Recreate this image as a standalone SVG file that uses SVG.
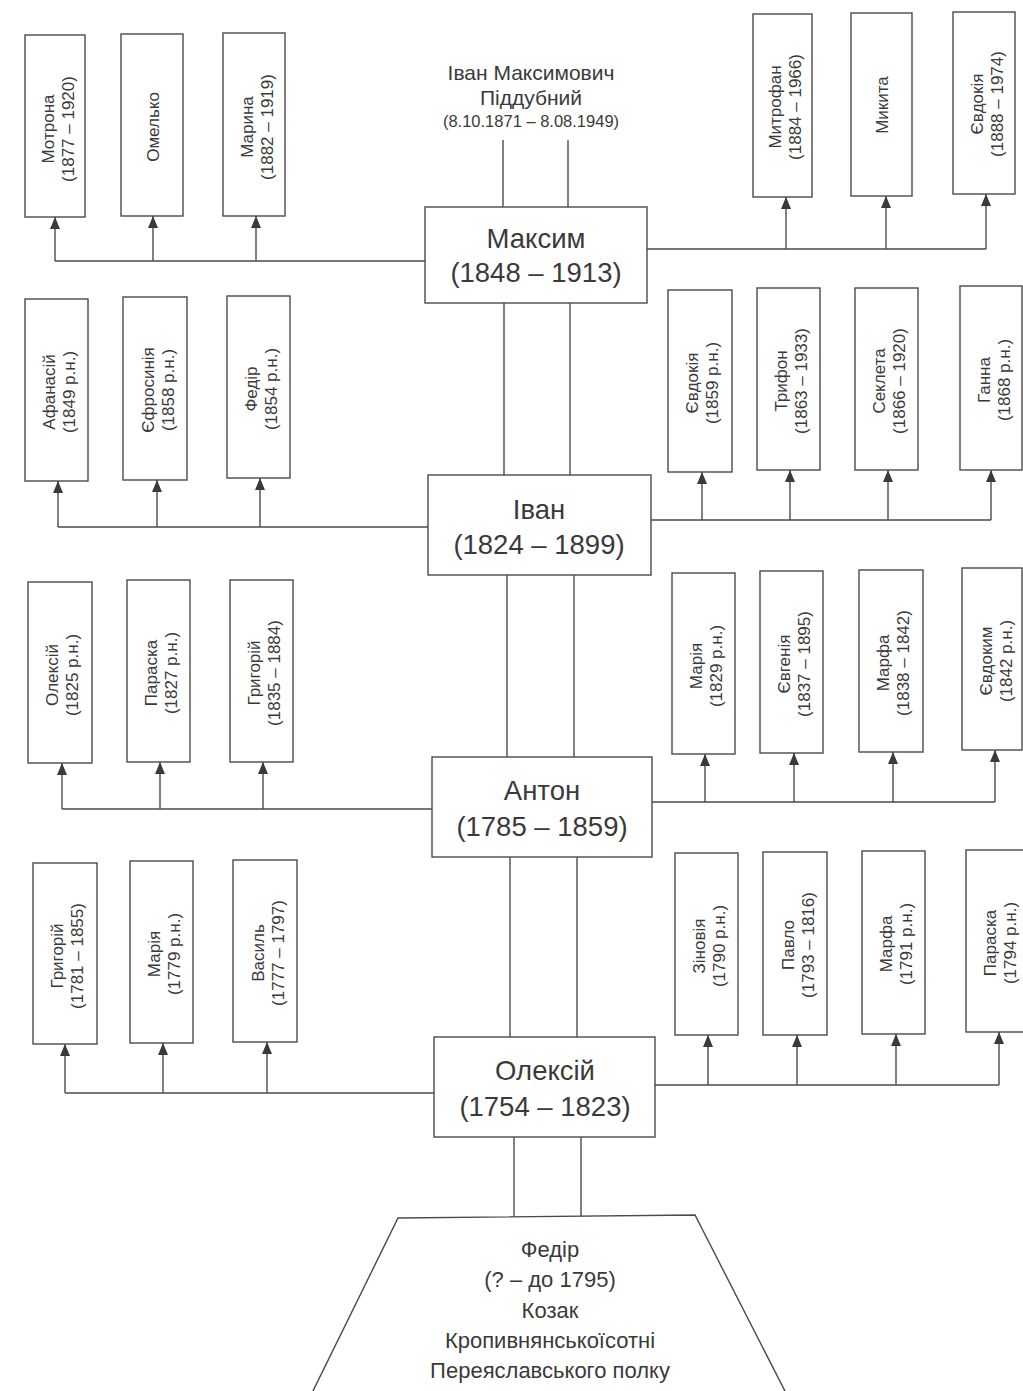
<svg xmlns="http://www.w3.org/2000/svg" width="1023" height="1391" viewBox="0 0 1023 1391">
<style>
.b{fill:#fff;stroke:#4a4a4a;stroke-width:1.4}
.l{fill:none;stroke:#4a4a4a;stroke-width:1.4}
.a{fill:none;stroke:#4a4a4a;stroke-width:1.4;marker-end:url(#ah)}
text{font-family:"Liberation Sans",Arial,sans-serif;fill:#3a3a3a;text-anchor:middle}
.s{font-size:17px}
.m{font-size:27.5px}
.t{font-size:21px}
.f{font-size:22px}
</style>
<defs>
<marker id="ah" viewBox="0 0 12 10" refX="12" refY="5" markerWidth="13" markerHeight="10" markerUnits="userSpaceOnUse" orient="auto">
<path d="M0,0 L12,5 L0,10 z" fill="#3a3a3a"/>
</marker>
</defs>
<rect width="1023" height="1391" fill="#fff"/>

<g id="connectors">
<line class="l" x1="503" y1="140" x2="503" y2="207"/>
<line class="l" x1="568" y1="140" x2="568" y2="207"/>
<polyline class="l" points="425,261 55,261"/>
<line class="a" x1="55" y1="261" x2="55" y2="217"/>
<line class="a" x1="153" y1="261" x2="153" y2="216"/>
<line class="a" x1="256" y1="261" x2="256" y2="216"/>
<polyline class="l" points="647,249 986,249"/>
<line class="a" x1="786" y1="249" x2="786" y2="197"/>
<line class="a" x1="886" y1="249" x2="886" y2="196"/>
<line class="a" x1="986" y1="249" x2="986" y2="194"/>
<line class="l" x1="504" y1="303" x2="504" y2="475"/>
<line class="l" x1="570" y1="303" x2="570" y2="475"/>
<polyline class="l" points="428,527 58,527"/>
<line class="a" x1="58" y1="527" x2="58" y2="481"/>
<line class="a" x1="157" y1="527" x2="157" y2="480"/>
<line class="a" x1="260" y1="527" x2="260" y2="478"/>
<polyline class="l" points="651,520 991,520"/>
<line class="a" x1="702" y1="520" x2="702" y2="472"/>
<line class="a" x1="790" y1="520" x2="790" y2="470"/>
<line class="a" x1="888" y1="520" x2="888" y2="470"/>
<line class="a" x1="991" y1="520" x2="991" y2="470"/>
<line class="l" x1="507" y1="575" x2="507" y2="757"/>
<line class="l" x1="574" y1="575" x2="574" y2="757"/>
<polyline class="l" points="432,809 62,809"/>
<line class="a" x1="62" y1="809" x2="62" y2="763"/>
<line class="a" x1="160" y1="809" x2="160" y2="762"/>
<line class="a" x1="263" y1="809" x2="263" y2="762"/>
<polyline class="l" points="652,802 995,802"/>
<line class="a" x1="705" y1="802" x2="705" y2="754"/>
<line class="a" x1="794" y1="802" x2="794" y2="753"/>
<line class="a" x1="893" y1="802" x2="893" y2="752"/>
<line class="a" x1="995" y1="802" x2="995" y2="750"/>
<line class="l" x1="510" y1="857" x2="510" y2="1037"/>
<line class="l" x1="577" y1="857" x2="577" y2="1037"/>
<polyline class="l" points="434,1093 65,1093"/>
<line class="a" x1="65" y1="1093" x2="65" y2="1044"/>
<line class="a" x1="163" y1="1093" x2="163" y2="1043"/>
<line class="a" x1="267" y1="1093" x2="267" y2="1042"/>
<polyline class="l" points="655,1085 999,1085"/>
<line class="a" x1="708" y1="1085" x2="708" y2="1035"/>
<line class="a" x1="797" y1="1085" x2="797" y2="1035"/>
<line class="a" x1="896" y1="1085" x2="896" y2="1034"/>
<line class="a" x1="999" y1="1085" x2="999" y2="1032"/>
<line class="l" x1="514" y1="1137" x2="514" y2="1217"/>
<line class="l" x1="581" y1="1137" x2="581" y2="1216"/>
</g>

<g id="ivan-maksymovych">
<text class="t" x="531" y="80">Іван  Максимович</text>
<text class="t" x="531" y="105">Піддубний</text>
<text x="531" y="127" style="font-size:16.5px">(8.10.1871 – 8.08.1949)</text>
</g>

<g id="maksym"><rect class="b" x="425" y="207" width="222" height="96"/>
<text class="m" x="536" y="248">Максим</text><text class="m" x="536" y="282">(1848 – 1913)</text></g>
<g id="ivan"><rect class="b" x="428" y="475" width="223" height="100"/>
<text class="m" x="539" y="519">Іван</text><text class="m" x="539" y="554">(1824 – 1899)</text></g>
<g id="anton"><rect class="b" x="432" y="757" width="220" height="100"/>
<text class="m" x="542" y="800">Антон</text><text class="m" x="542" y="836">(1785 – 1859)</text></g>
<g id="oleksii"><rect class="b" x="434" y="1037" width="221" height="100"/>
<text class="m" x="545" y="1080">Олексій</text><text class="m" x="545" y="1116">(1754 – 1823)</text></g>

<g id="fedir">
<path class="l" d="M311,1395 L398,1218 L695,1215 L787,1395"/>
<text class="f" x="550" y="1257">Федір</text>
<text class="f" x="550" y="1287">(? – до 1795)</text>
<text class="f" x="550" y="1318">Козак</text>
<text class="f" x="550" y="1348">Кропивнянськоїсотні</text>
<text class="f" x="550" y="1378">Переяславського  полку</text>
</g>

<g id="motrona"><rect class="b" x="25" y="35" width="60" height="182"/>
<text class="s" transform="translate(55,129) rotate(-90)"><tspan x="0" y="-1">Мотрона</tspan><tspan x="0" y="19">(1877 – 1920)</tspan></text></g>
<g id="omelko"><rect class="b" x="121" y="34" width="62" height="182"/>
<text class="s" transform="translate(152,127) rotate(-90)"><tspan x="0" y="7">Омелько</tspan></text></g>
<g id="maryna"><rect class="b" x="223" y="33" width="62" height="183"/>
<text class="s" transform="translate(254,127) rotate(-90)"><tspan x="0" y="-1">Марина</tspan><tspan x="0" y="19">(1882 – 1919)</tspan></text></g>
<g id="mytrofan"><rect class="b" x="753" y="14" width="59" height="183"/>
<text class="s" transform="translate(782,107) rotate(-90)"><tspan x="0" y="-1">Митрофан</tspan><tspan x="0" y="19">(1884 – 1966)</tspan></text></g>
<g id="mykyta"><rect class="b" x="851" y="13" width="61" height="183"/>
<text class="s" transform="translate(881,105) rotate(-90)"><tspan x="0" y="7">Микита</tspan></text></g>
<g id="yevdokiia1"><rect class="b" x="953" y="12" width="62" height="182"/>
<text class="s" transform="translate(984,104) rotate(-90)"><tspan x="0" y="-1">Євдокія</tspan><tspan x="0" y="19">(1888 – 1974)</tspan></text></g>

<g id="afanasii"><rect class="b" x="25" y="299" width="63" height="182"/>
<text class="s" transform="translate(56,392) rotate(-90)"><tspan x="0" y="-1">Афанасій</tspan><tspan x="0" y="19">(1849 р.н.)</tspan></text></g>
<g id="yefrosyniia"><rect class="b" x="123" y="297" width="64" height="183"/>
<text class="s" transform="translate(155,390) rotate(-90)"><tspan x="0" y="-1">Єфросинія</tspan><tspan x="0" y="19">(1858 р.н.)</tspan></text></g>
<g id="fedir2"><rect class="b" x="227" y="296" width="63" height="182"/>
<text class="s" transform="translate(258,389) rotate(-90)"><tspan x="0" y="-1">Федір</tspan><tspan x="0" y="19">(1854 р.н.)</tspan></text></g>
<g id="yevdokiia2"><rect class="b" x="668" y="290" width="64" height="182"/>
<text class="s" transform="translate(699,383) rotate(-90)"><tspan x="0" y="-1">Євдокія</tspan><tspan x="0" y="19">(1859 р.н.)</tspan></text></g>
<g id="tryfon"><rect class="b" x="757" y="288" width="63" height="182"/>
<text class="s" transform="translate(788,381) rotate(-90)"><tspan x="0" y="-1">Трифон</tspan><tspan x="0" y="19">(1863 – 1933)</tspan></text></g>
<g id="sekleta"><rect class="b" x="855" y="288" width="63" height="182"/>
<text class="s" transform="translate(886,381) rotate(-90)"><tspan x="0" y="-1">Секлета</tspan><tspan x="0" y="19">(1866 – 1920)</tspan></text></g>
<g id="hanna"><rect class="b" x="960" y="286" width="62" height="184"/>
<text class="s" transform="translate(991,380) rotate(-90)"><tspan x="0" y="-1">Ганна</tspan><tspan x="0" y="19">(1868 р.н.)</tspan></text></g>

<g id="oleksii2"><rect class="b" x="28" y="582" width="64" height="181"/>
<text class="s" transform="translate(59,675) rotate(-90)"><tspan x="0" y="-1">Олексій</tspan><tspan x="0" y="19">(1825 р.н.)</tspan></text></g>
<g id="paraska1"><rect class="b" x="127" y="580" width="63" height="182"/>
<text class="s" transform="translate(158,673) rotate(-90)"><tspan x="0" y="-1">Параска</tspan><tspan x="0" y="19">(1827 р.н.)</tspan></text></g>
<g id="hryhorii1"><rect class="b" x="230" y="580" width="63" height="182"/>
<text class="s" transform="translate(261,673) rotate(-90)"><tspan x="0" y="-1">Григорій</tspan><tspan x="0" y="19">(1835 – 1884)</tspan></text></g>
<g id="mariia1"><rect class="b" x="672" y="573" width="63" height="181"/>
<text class="s" transform="translate(703,666) rotate(-90)"><tspan x="0" y="-1">Марія</tspan><tspan x="0" y="19">(1829 р.н.)</tspan></text></g>
<g id="yevheniia"><rect class="b" x="760" y="571" width="63" height="182"/>
<text class="s" transform="translate(791,664) rotate(-90)"><tspan x="0" y="-1">Євгенія</tspan><tspan x="0" y="19">(1837 – 1895)</tspan></text></g>
<g id="marfa1"><rect class="b" x="859" y="570" width="64" height="182"/>
<text class="s" transform="translate(890,663) rotate(-90)"><tspan x="0" y="-1">Марфа</tspan><tspan x="0" y="19">(1838 – 1842)</tspan></text></g>
<g id="yevdokym"><rect class="b" x="962" y="568" width="60" height="182"/>
<text class="s" transform="translate(993,661) rotate(-90)"><tspan x="0" y="-1">Євдоким</tspan><tspan x="0" y="19">(1842 р.н.)</tspan></text></g>

<g id="hryhorii2"><rect class="b" x="33" y="863" width="64" height="181"/>
<text class="s" transform="translate(64,956) rotate(-90)"><tspan x="0" y="-1">Григорій</tspan><tspan x="0" y="19">(1781 – 1855)</tspan></text></g>
<g id="mariia2"><rect class="b" x="130" y="861" width="63" height="182"/>
<text class="s" transform="translate(161,954) rotate(-90)"><tspan x="0" y="-1">Марія</tspan><tspan x="0" y="19">(1779 р.н.)</tspan></text></g>
<g id="vasyl"><rect class="b" x="233" y="860" width="64" height="182"/>
<text class="s" transform="translate(265,953) rotate(-90)"><tspan x="0" y="-1">Василь</tspan><tspan x="0" y="19">(1777 – 1797)</tspan></text></g>
<g id="zinoviia"><rect class="b" x="675" y="853" width="63" height="182"/>
<text class="s" transform="translate(706,946) rotate(-90)"><tspan x="0" y="-1">Зіновія</tspan><tspan x="0" y="19">(1790 р.н.)</tspan></text></g>
<g id="pavlo"><rect class="b" x="763" y="852" width="64" height="183"/>
<text class="s" transform="translate(795,945) rotate(-90)"><tspan x="0" y="-1">Павло</tspan><tspan x="0" y="19">(1793 – 1816)</tspan></text></g>
<g id="marfa2"><rect class="b" x="862" y="851" width="63" height="183"/>
<text class="s" transform="translate(893,944) rotate(-90)"><tspan x="0" y="-1">Марфа</tspan><tspan x="0" y="19">(1791 р.н.)</tspan></text></g>
<g id="paraska2"><rect class="b" x="966" y="850" width="60" height="182"/>
<text class="s" transform="translate(997,943) rotate(-90)"><tspan x="0" y="-1">Параска</tspan><tspan x="0" y="19">(1794 р.н.)</tspan></text></g>
</svg>
